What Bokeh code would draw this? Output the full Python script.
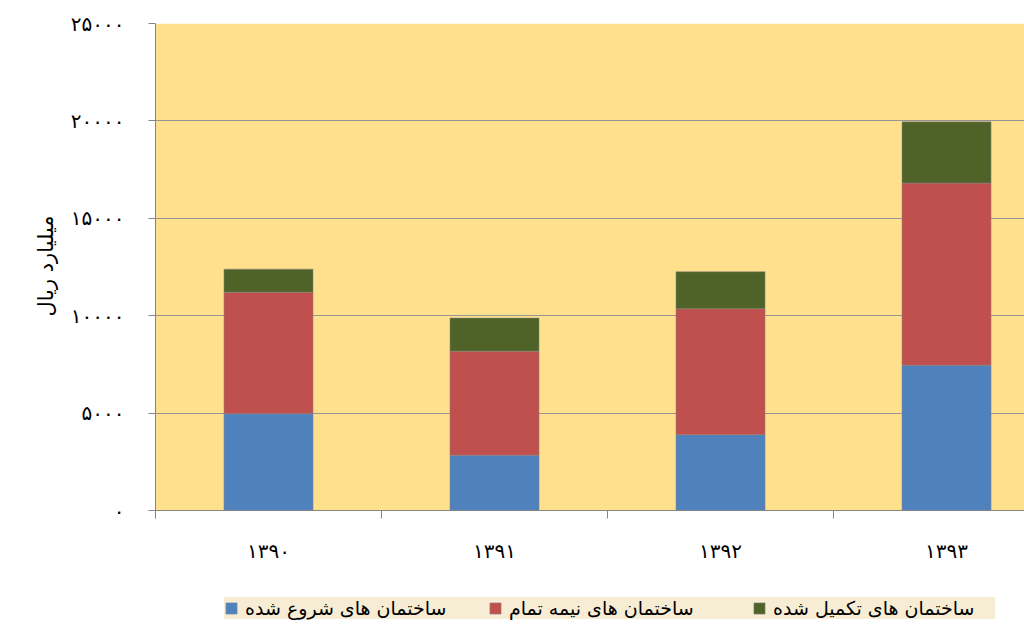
from bokeh.plotting import figure
from bokeh.models import FixedTicker, Legend, LegendItem, Range1d, BoxAnnotation, Title
from bokeh.embed import file_html
from bokeh.resources import INLINE

years = ["۱۳۹۰", "۱۳۹۱", "۱۳۹۲", "۱۳۹۳"]
started = [4970, 2840, 3890, 7460]
unfinished = [6240, 5340, 6470, 9350]
completed = [1180, 1700, 1900, 3140]
series_names = ["ساختمان های شروع شده", "ساختمان های نیمه تمام", "ساختمان های تکمیل شده"]
colors = ["#4F81BD", "#C0504D", "#4F6228"]
y_ticks = [0, 5000, 10000, 15000, 20000, 25000]
y_tick_labels = ["۰", "۵۰۰۰", "۱۰۰۰۰", "۱۵۰۰۰", "۲۰۰۰۰", "۲۵۰۰۰"]
y_title = "میلیارد ریال"

FONT = "DejaVu Sans"
Y_MAX = 25000
# the frame reaches below the value axis to hold the legend: 0 sits 116px above the bottom
Y_MIN = -Y_MAX * 116 / 487

xs = [i + 0.5 for i in range(len(years))]
data = dict(x=xs, started=started, unfinished=unfinished, completed=completed)

p = figure(width=1024, height=626, output_backend="svg", toolbar_location=None,
           x_range=Range1d(0, 3.845), y_range=Range1d(Y_MIN, Y_MAX),
           min_border_left=155, min_border_right=0, min_border_top=23,
           min_border_bottom=0, background_fill_color="white",
           border_fill_color="white", outline_line_color=None)

# plot-area colour only between 0 and the top of the value axis
p.add_layout(BoxAnnotation(bottom=0, top=Y_MAX, fill_color="#FFE08C", fill_alpha=1,
                           line_color=None, level="image"))

renderers = p.vbar_stack(["started", "unfinished", "completed"], x="x", width=0.394,
                         source=data, color=colors, line_color="#8a8a8a",
                         line_alpha=0.5, line_width=1)

# y axis
p.yaxis.ticker = FixedTicker(ticks=y_ticks)
p.yaxis.bounds = (-Y_MAX * 8 / 487, Y_MAX)
p.yaxis.major_label_overrides = {t: l for t, l in zip(y_ticks, y_tick_labels)}
p.yaxis.major_label_text_font = FONT
p.yaxis.major_label_text_font_size = "20px"
p.yaxis.major_label_text_color = "black"
p.yaxis.major_label_standoff = 24
p.yaxis.major_tick_out = 7
p.yaxis.major_tick_in = 0
p.yaxis.minor_tick_out = 0
p.yaxis.minor_tick_in = 0
p.yaxis.axis_line_color = "#868686"
p.yaxis.major_tick_line_color = "#868686"

# value-axis title, placed beside the 0..25000 part of the axis
p.add_layout(Title(text=y_title, align="right", offset=192, standoff=15,
                   vertical_align="top",
                   text_font=FONT, text_font_size="21px", text_font_style="normal",
                   text_color="black"), "left")

# x axis at value 0: labels at centers, tick marks at boundaries
p.xaxis.fixed_location = 0
p.xaxis.ticker = FixedTicker(ticks=xs, minor_ticks=[0, 1, 2, 3])
p.xaxis.major_label_overrides = {x: y for x, y in zip(xs, years)}
p.xaxis.major_label_text_font = FONT
p.xaxis.major_label_text_font_size = "20px"
p.xaxis.major_label_text_color = "black"
p.xaxis.major_label_standoff = 20
p.xaxis.major_tick_out = 0
p.xaxis.major_tick_in = 0
p.xaxis.minor_tick_out = 8
p.xaxis.minor_tick_in = 0
p.xaxis.minor_tick_line_color = "#868686"
p.xaxis.axis_line_color = "#868686"

p.xgrid.grid_line_color = None
p.ygrid.ticker = FixedTicker(ticks=y_ticks)
p.ygrid.grid_line_color = "#959595"
p.ygrid.grid_line_width = 1

items = [LegendItem(label=n, renderers=[r]) for n, r in zip(series_names, renderers)]
legend = Legend(items=items, orientation="horizontal", location=(69, 7),
                background_fill_color="#F6EDD4", background_fill_alpha=1,
                border_line_color=None, padding=10, spacing=21, margin=0,
                glyph_width=14, glyph_height=14, label_standoff=7,
                label_width=222, label_text_font=FONT, label_text_font_size="19px",
                label_text_color="black")
p.add_layout(legend, "center")

open("out.html", "w").write(file_html(p, INLINE))
